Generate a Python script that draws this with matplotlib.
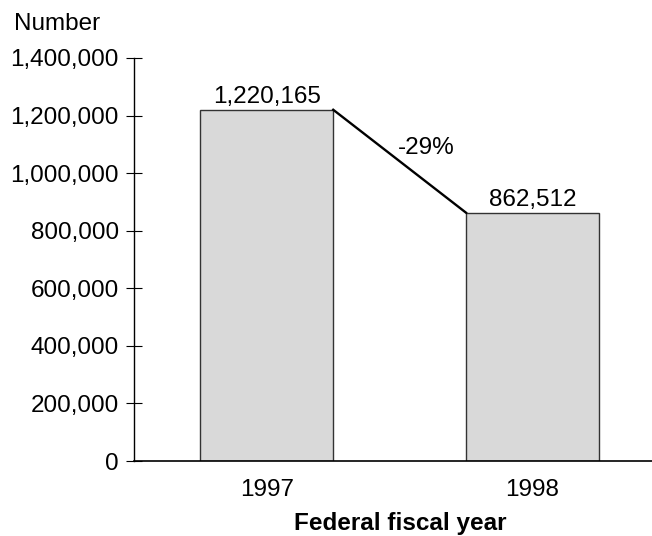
import matplotlib
matplotlib.use("Agg")
import matplotlib.pyplot as plt
from matplotlib.ticker import FuncFormatter

plt.rcParams['font.family'] = ['Liberation Sans', 'DejaVu Sans']

years = ["1997", "1998"]
counts = [1220165, 862512]
change_label = "-29%"
y_ticks = [0, 200000, 400000, 600000, 800000, 1000000, 1200000, 1400000]

FS = 17.5

fig = plt.figure(figsize=(6.52, 5.36), dpi=100)
ax = fig.add_axes([134 / 652, 75 / 536, 1 - 134 / 652, (461 - 58) / 536])

pos = list(range(len(years)))
width = 0.5
ax.bar(pos, counts, width=width, color="#d9d9d9", edgecolor="#333333", linewidth=1.0, zorder=2)

# line joining the tops of the two bars
ax.plot([pos[0] + width / 2, pos[1] - width / 2], [counts[0], counts[1]],
        color="black", linewidth=1.7, zorder=3)

for p, v in zip(pos, counts):
    ax.text(p, v + 5000, f"{v:,}", ha="center", va="bottom", fontsize=FS)

ax.text(0.6, (counts[0] + counts[1]) / 2 + 45000, change_label,
        ha="center", va="center", fontsize=FS)

ax.set_xlim(-0.5, 1.45)
ax.set_ylim(0, 1400000)
ax.set_yticks(y_ticks)
ax.yaxis.set_major_formatter(FuncFormatter(lambda v, _: f"{int(v):,}"))
ax.set_xticks(pos)
ax.set_xticklabels(years)

ax.tick_params(axis="y", direction="inout", length=12, width=0.8, labelsize=FS, pad=5)
ax.tick_params(axis="x", length=0, labelsize=FS, pad=13)

for s in ("top", "right"):
    ax.spines[s].set_visible(False)
ax.spines["left"].set_linewidth(1.0)
ax.spines["bottom"].set_linewidth(1.2)

ax.set_xlabel("Federal fiscal year", fontsize=FS, fontweight="bold")
ax.xaxis.set_label_coords((400 - 134) / (652 - 134), -0.127)

fig.text(14 / 652, 1 - 30 / 536, "Number", fontsize=FS, ha="left", va="baseline")

fig.savefig("out.png", dpi=100)
